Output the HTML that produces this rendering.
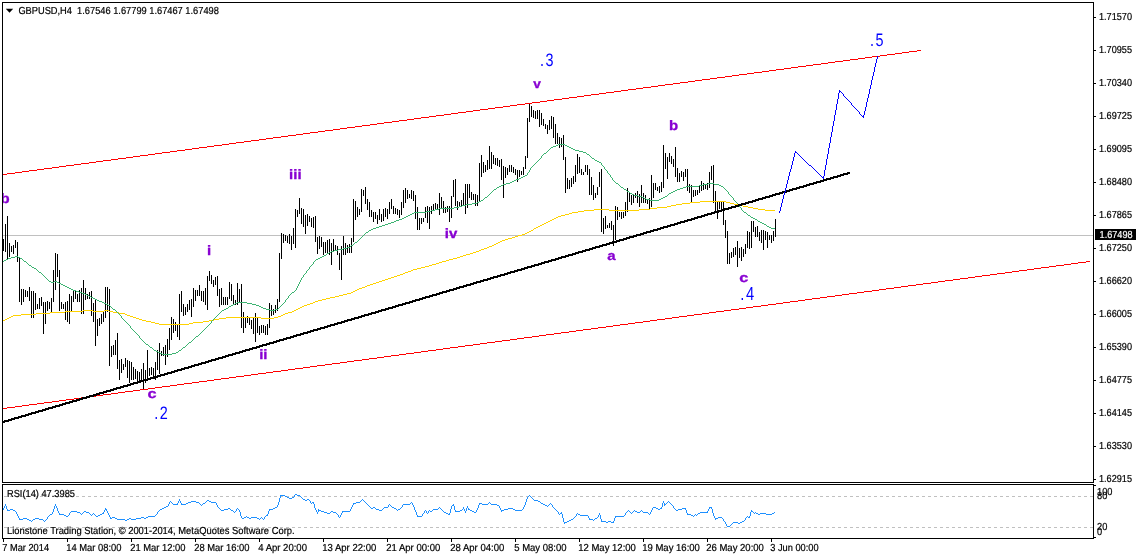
<!DOCTYPE html>
<html lang="en"><head><meta charset="utf-8"><title>GBPUSD,H4</title>
<style>
html,body{margin:0;padding:0;background:#ffffff;overflow:hidden}
svg{display:block}
text{font-family:"Liberation Sans",sans-serif;white-space:pre;text-rendering:geometricPrecision}
.s{font-size:9.8px;fill:#000;stroke:#000;stroke-width:0.2px}
.p{font-size:13px;font-weight:bold;fill:#8800d2;stroke:#8800d2;stroke-width:0.3px}
.b{font-size:18px;fill:#0000ff}
.ce{shape-rendering:crispEdges}
</style></head><body>
<svg width="1136" height="556" viewBox="0 0 1136 556">
<rect x="0" y="0" width="1136" height="556" fill="#ffffff"/>

<g class="ce" fill="none" stroke="#000" stroke-width="1">
<rect x="2.5" y="2.5" width="1091" height="480"/>
<rect x="2.5" y="484.5" width="1091" height="54"/>
<path d="M1094 17.5H1096M1094 50.5H1096M1094 83.5H1096M1094 116.5H1096M1094 149.5H1096M1094 182.5H1096M1094 215.5H1096M1094 248.5H1096M1094 281.5H1096M1094 314.5H1096M1094 347.5H1096M1094 380.5H1096M1094 413.5H1096M1094 446.5H1096M1094 479.5H1096M1094 485.5H1096M1094 537.5H1096M3.5 539V542M67.5 539V542M131.5 539V542M195.5 539V542M259.5 539V542M323.5 539V542M387.5 539V542M451.5 539V542M515.5 539V542M579.5 539V542M643.5 539V542M707.5 539V542M771.5 539V542"/>
</g>
<path class="ce" d="M3 235.5H1093" stroke="#c0c0c0" stroke-width="1" fill="none"/>
<path class="ce" d="M4 496.5H1093M4 527.5H1093" stroke="#c0c0c0" stroke-width="1" stroke-dasharray="3 3" fill="none"/>
<path class="ce" d="M3.5 239V251M5.5 224V252M7.5 216V259M9.5 243V257M11.5 246V252M13.5 245V254M15.5 240V248M17.5 242V262M19.5 257V302M21.5 289V305M23.5 289V302M25.5 290V297M27.5 291V297M29.5 287V301M31.5 291V318M33.5 291V318M35.5 293V310M37.5 304V309M39.5 298V309M41.5 297V306M43.5 302V334M45.5 302V324M47.5 301V311M49.5 302V309M51.5 298V312M53.5 270V302M55.5 253V290M57.5 254V277M59.5 270V311M61.5 302V309M63.5 304V309M65.5 302V320M67.5 301V322M69.5 294V324M71.5 296V311M73.5 290V302M75.5 291V299M77.5 294V302M79.5 290V302M81.5 288V314M83.5 280V314M85.5 288V300M87.5 294V299M89.5 292V299M91.5 291V316M93.5 303V322M95.5 299V346M97.5 319V336M99.5 318V326M101.5 314V324M103.5 312V322M105.5 287V318M107.5 287V312M109.5 289V366M111.5 346V357M113.5 345V355M115.5 340V355M117.5 333V369M119.5 360V380M121.5 359V373M123.5 364V370M125.5 358V367M127.5 360V378M129.5 361V383M131.5 362V380M133.5 367V380M135.5 369V379M137.5 371V381M139.5 372V382M141.5 369V382M143.5 363V389M145.5 370V383M147.5 350V378M149.5 368V376M151.5 367V375M153.5 368V379M155.5 362V380M157.5 350V370M159.5 343V374M161.5 351V356M163.5 347V356M165.5 345V365M167.5 339V357M169.5 328V350M171.5 317V340M173.5 319V333M175.5 322V331M177.5 324V337M179.5 294V340M181.5 291V312M183.5 304V316M185.5 307V315M187.5 304V312M189.5 300V310M191.5 299V317M193.5 288V307M195.5 290V301M197.5 290V296M199.5 285V296M201.5 291V301M203.5 291V302M205.5 288V305M207.5 276V310M209.5 271V281M211.5 275V284M213.5 280V287M215.5 277V285M217.5 276V296M219.5 289V307M221.5 288V305M223.5 297V305M225.5 297V305M227.5 297V305M229.5 282V299M231.5 284V301M233.5 295V305M235.5 300V305M237.5 283V305M239.5 289V302M241.5 284V328M243.5 312V333M245.5 317V328M247.5 316V323M249.5 317V325M251.5 320V329M253.5 317V334M255.5 313V342M257.5 318V333M259.5 326V335M261.5 325V333M263.5 325V333M265.5 326V335M267.5 324V335M269.5 303V328M271.5 305V316M273.5 309V315M275.5 305V313M277.5 299V311M279.5 253V302M281.5 233V259M283.5 234V243M285.5 235V241M287.5 236V243M289.5 234V244M291.5 236V250M293.5 228V244M295.5 209V248M297.5 210V217M299.5 198V214M301.5 208V224M303.5 209V227M305.5 215V234M307.5 214V226M309.5 216V222M311.5 218V227M313.5 217V228M315.5 216V242M317.5 237V254M319.5 236V249M321.5 237V247M323.5 242V255M325.5 242V253M327.5 240V253M329.5 239V255M331.5 243V265M333.5 239V251M335.5 245V251M337.5 246V255M339.5 253V270M341.5 246V280M343.5 236V255M345.5 243V255M347.5 245V253M349.5 244V253M351.5 238V253M353.5 199V242M355.5 201V220M357.5 207V217M359.5 209V215M361.5 189V212M363.5 190V196M365.5 187V204M367.5 199V210M369.5 202V217M371.5 210V217M373.5 212V222M375.5 212V219M377.5 215V224M379.5 209V220M381.5 214V222M383.5 209V221M385.5 208V217M387.5 209V219M389.5 202V214M391.5 199V209M393.5 206V214M395.5 208V214M397.5 209V215M399.5 210V218M401.5 202V215M403.5 190V208M405.5 188V203M407.5 190V199M409.5 194V198M411.5 190V199M413.5 191V201M415.5 195V219M417.5 207V230M419.5 218V230M421.5 218V224M423.5 218V222M425.5 207V218M427.5 206V223M429.5 207V229M431.5 206V214M433.5 204V210M435.5 203V209M437.5 204V210M439.5 193V215M441.5 197V209M443.5 201V213M445.5 207V213M447.5 206V212M449.5 206V222M451.5 196V218M453.5 180V197M455.5 179V206M457.5 201V210M459.5 202V207M461.5 200V207M463.5 193V206M465.5 184V214M467.5 184V208M469.5 184V198M471.5 192V200M473.5 194V200M475.5 194V206M477.5 195V206M479.5 163V202M481.5 155V177M483.5 162V173M485.5 165V172M487.5 160V170M489.5 146V169M491.5 152V169M493.5 155V164M495.5 158V165M497.5 158V166M499.5 160V167M501.5 159V180M503.5 166V198M505.5 167V178M507.5 168V175M509.5 165V172M511.5 165V172M513.5 167V173M515.5 169V175M517.5 170V182M519.5 170V177M521.5 171V175M523.5 167V175M525.5 156V169M527.5 118V158M529.5 104V122M531.5 106V117M533.5 110V118M535.5 111V119M537.5 110V119M539.5 110V127M541.5 113V125M543.5 119V126M545.5 124V129M547.5 125V134M549.5 120V130M551.5 116V129M553.5 117V138M555.5 124V144M557.5 133V144M559.5 137V148M561.5 138V147M563.5 135V160M565.5 157V193M567.5 178V189M569.5 180V189M571.5 178V187M573.5 176V184M575.5 165V182M577.5 154V174M579.5 157V173M581.5 169V175M583.5 172V175M585.5 165V172M587.5 165V175M589.5 169V195M591.5 177V195M593.5 185V200M595.5 193V198M597.5 187V195M599.5 172V187M601.5 169V232M603.5 218V234M605.5 216V229M607.5 225V228M609.5 223V228M611.5 221V230M613.5 225V246M615.5 206V240M617.5 207V220M619.5 212V217M621.5 212V219M623.5 212V218M625.5 202V216M627.5 188V212M629.5 193V202M631.5 195V205M633.5 195V203M635.5 193V198M637.5 191V203M639.5 194V207M641.5 185V203M643.5 193V203M645.5 195V203M647.5 199V204M649.5 198V209M651.5 175V207M653.5 183V198M655.5 183V190M657.5 187V191M659.5 186V193M661.5 182V192M663.5 145V188M665.5 153V169M667.5 157V179M669.5 153V162M671.5 156V164M673.5 159V167M675.5 147V177M677.5 168V182M679.5 173V182M681.5 171V177M683.5 172V181M685.5 169V177M687.5 169V191M689.5 184V193M691.5 185V203M693.5 190V197M695.5 190V196M697.5 190V195M699.5 185V193M701.5 181V191M703.5 183V190M705.5 184V189M707.5 183V190M709.5 172V188M711.5 166V180M713.5 165V203M715.5 191V211M717.5 201V219M719.5 202V209M721.5 202V209M723.5 202V225M725.5 220V238M727.5 231V264M729.5 253V264M731.5 252V258M733.5 248V257M735.5 247V255M737.5 241V267M739.5 248V258M741.5 247V261M743.5 249V257M745.5 244V254M747.5 231V248M749.5 232V249M751.5 221V248M753.5 221V232M755.5 227V237M757.5 226V237M759.5 232V241M761.5 230V243M763.5 230V250M765.5 231V240M767.5 232V248M769.5 235V240M771.5 235V243M773.5 231V241M775.5 219V237" stroke="#000" stroke-width="1" fill="none"/>
<path class="ce" d="M700 201h26v1h-26zM690 202h10v1h-10zM726 202h4v1h-4zM682 203h8v1h-8zM730 203h4v1h-4zM676 204h6v1h-6zM734 204h5v1h-5zM671 205h5v1h-5zM739 205h4v1h-4zM667 206h4v1h-4zM743 206h5v1h-5zM657 207h10v1h-10zM748 207h5v1h-5zM650 208h7v1h-7zM753 208h5v1h-5zM594 209h15v1h-15zM639 209h11v1h-11zM758 209h7v1h-7zM584 210h10v1h-10zM609 210h30v1h-30zM765 210h10v1h-10zM578 211h6v1h-6zM572 212h6v1h-6zM569 213h3v1h-3zM565 214h4v1h-4zM561 215h4v1h-4zM558 216h3v1h-3zM556 217h2v1h-2zM554 218h2v1h-2zM552 219h2v1h-2zM550 220h2v1h-2zM548 221h2v1h-2zM546 222h2v1h-2zM544 223h2v1h-2zM542 224h2v1h-2zM540 225h2v1h-2zM538 226h2v1h-2zM536 227h2v1h-2zM534 228h2v1h-2zM531 230h2v1h-2zM529 231h2v1h-2zM527 232h2v1h-2zM525 233h2v1h-2zM522 234h3v1h-3zM518 235h4v1h-4zM515 236h3v1h-3zM512 237h3v1h-3zM508 238h4v1h-4zM505 239h3v1h-3zM502 240h3v1h-3zM500 241h2v1h-2zM498 242h2v1h-2zM496 243h2v1h-2zM494 244h2v1h-2zM492 245h2v1h-2zM489 246h3v1h-3zM487 247h2v1h-2zM484 248h3v1h-3zM481 249h3v1h-3zM479 250h2v1h-2zM476 251h3v1h-3zM473 252h3v1h-3zM470 253h3v1h-3zM466 254h4v1h-4zM463 255h3v1h-3zM460 256h3v1h-3zM457 257h3v1h-3zM453 258h4v1h-4zM449 259h4v1h-4zM446 260h3v1h-3zM442 261h4v1h-4zM439 262h3v1h-3zM436 263h3v1h-3zM432 264h4v1h-4zM429 265h3v1h-3zM425 266h4v1h-4zM421 267h4v1h-4zM417 268h4v1h-4zM413 269h4v1h-4zM411 270h2v1h-2zM408 271h3v1h-3zM405 272h3v1h-3zM403 273h2v1h-2zM400 274h3v1h-3zM397 275h3v1h-3zM394 276h3v1h-3zM391 277h3v1h-3zM388 278h3v1h-3zM385 279h3v1h-3zM382 280h3v1h-3zM379 281h3v1h-3zM376 282h3v1h-3zM373 283h3v1h-3zM370 284h3v1h-3zM367 285h3v1h-3zM365 286h2v1h-2zM362 287h3v1h-3zM359 288h3v1h-3zM357 289h2v1h-2zM355 290h2v1h-2zM353 291h2v1h-2zM351 292h2v1h-2zM347 293h4v1h-4zM343 294h4v1h-4zM339 295h4v1h-4zM335 296h4v1h-4zM330 297h5v1h-5zM326 298h4v1h-4zM322 299h4v1h-4zM318 300h4v1h-4zM315 301h3v1h-3zM313 302h2v1h-2zM310 303h3v1h-3zM307 304h3v1h-3zM304 305h3v1h-3zM302 306h2v1h-2zM300 307h2v1h-2zM298 308h2v1h-2zM296 309h2v1h-2zM83 310h10v1h-10zM104 310h5v1h-5zM294 310h2v1h-2zM65 311h18v1h-18zM93 311h11v1h-11zM109 311h4v1h-4zM292 311h2v1h-2zM50 312h15v1h-15zM113 312h6v1h-6zM288 312h4v1h-4zM36 313h14v1h-14zM119 313h6v1h-6zM285 313h3v1h-3zM21 314h15v1h-15zM125 314h2v1h-2zM283 314h2v1h-2zM13 315h8v1h-8zM127 315h3v1h-3zM281 315h2v1h-2zM11 316h2v1h-2zM130 316h3v1h-3zM278 316h3v1h-3zM9 317h2v1h-2zM133 317h3v1h-3zM226 317h35v1h-35zM274 317h4v1h-4zM7 318h2v1h-2zM136 318h3v1h-3zM219 318h7v1h-7zM261 318h13v1h-13zM5 319h2v1h-2zM139 319h3v1h-3zM214 319h5v1h-5zM3 320h2v1h-2zM142 320h4v1h-4zM209 320h5v1h-5zM146 321h5v1h-5zM203 321h6v1h-6zM151 322h4v1h-4zM193 322h10v1h-10zM155 323h4v1h-4zM189 323h4v1h-4zM159 324h30v1h-30zM533 229h1v1h-1z" fill="#ffd200"/>
<path class="ce" d="M558 144h7v1h-7zM556 145h2v1h-2zM565 145h2v1h-2zM553 146h3v1h-3zM567 146h2v1h-2zM551 147h2v1h-2zM569 147h2v1h-2zM571 148h2v1h-2zM573 149h2v1h-2zM575 150h4v1h-4zM579 151h4v1h-4zM583 152h3v1h-3zM544 153h2v1h-2zM587 154h2v1h-2zM592 158h2v1h-2zM595 160h2v1h-2zM597 161h2v1h-2zM599 162h2v1h-2zM525 175h2v1h-2zM523 176h2v1h-2zM521 177h2v1h-2zM519 178h2v1h-2zM516 179h3v1h-3zM514 180h2v1h-2zM512 181h2v1h-2zM510 182h2v1h-2zM506 183h4v1h-4zM616 183h2v1h-2zM708 183h6v1h-6zM503 184h3v1h-3zM703 184h5v1h-5zM714 184h5v1h-5zM501 185h2v1h-2zM699 185h4v1h-4zM719 185h2v1h-2zM499 186h2v1h-2zM686 186h13v1h-13zM721 186h2v1h-2zM497 187h2v1h-2zM621 187h2v1h-2zM683 187h3v1h-3zM680 188h3v1h-3zM494 189h2v1h-2zM624 189h2v1h-2zM677 189h3v1h-3zM675 190h2v1h-2zM627 191h2v1h-2zM673 191h2v1h-2zM671 192h2v1h-2zM630 193h2v1h-2zM669 193h2v1h-2zM632 194h2v1h-2zM634 195h4v1h-4zM638 196h4v1h-4zM665 196h2v1h-2zM485 197h2v1h-2zM642 197h2v1h-2zM663 197h2v1h-2zM644 198h2v1h-2zM661 198h2v1h-2zM646 199h4v1h-4zM659 199h2v1h-2zM481 200h2v1h-2zM650 200h9v1h-9zM479 201h2v1h-2zM477 202h2v1h-2zM472 203h5v1h-5zM466 204h6v1h-6zM462 205h4v1h-4zM459 206h3v1h-3zM454 207h5v1h-5zM439 208h15v1h-15zM435 209h4v1h-4zM431 210h4v1h-4zM426 211h5v1h-5zM414 212h12v1h-12zM744 212h2v1h-2zM412 213h2v1h-2zM410 214h2v1h-2zM408 215h2v1h-2zM748 215h2v1h-2zM406 216h2v1h-2zM404 217h2v1h-2zM751 217h2v1h-2zM402 218h2v1h-2zM753 218h2v1h-2zM399 219h3v1h-3zM755 219h2v1h-2zM396 220h3v1h-3zM394 221h2v1h-2zM758 221h2v1h-2zM391 222h3v1h-3zM760 222h2v1h-2zM388 223h3v1h-3zM762 223h2v1h-2zM385 224h3v1h-3zM764 224h2v1h-2zM382 225h3v1h-3zM379 226h3v1h-3zM767 226h2v1h-2zM376 227h3v1h-3zM769 227h2v1h-2zM373 228h3v1h-3zM771 228h4v1h-4zM371 229h2v1h-2zM369 230h2v1h-2zM366 232h2v1h-2zM355 242h2v1h-2zM351 245h2v1h-2zM347 247h3v1h-3zM343 248h4v1h-4zM338 249h5v1h-5zM334 250h4v1h-4zM331 251h3v1h-3zM329 252h2v1h-2zM327 253h2v1h-2zM324 255h2v1h-2zM15 256h3v1h-3zM322 256h2v1h-2zM11 257h4v1h-4zM18 257h2v1h-2zM320 257h2v1h-2zM8 258h3v1h-3zM20 258h2v1h-2zM318 258h2v1h-2zM6 259h2v1h-2zM316 259h2v1h-2zM4 260h2v1h-2zM24 261h2v1h-2zM29 265h2v1h-2zM32 267h2v1h-2zM34 268h2v1h-2zM39 272h2v1h-2zM49 281h2v1h-2zM54 281h3v1h-3zM51 282h3v1h-3zM57 282h2v1h-2zM59 283h2v1h-2zM61 284h2v1h-2zM63 285h2v1h-2zM65 286h2v1h-2zM67 287h2v1h-2zM69 288h2v1h-2zM71 289h2v1h-2zM73 290h3v1h-3zM76 291h3v1h-3zM79 292h3v1h-3zM292 292h2v1h-2zM82 293h3v1h-3zM85 294h2v1h-2zM87 295h2v1h-2zM89 296h2v1h-2zM91 297h2v1h-2zM93 298h2v1h-2zM95 299h2v1h-2zM97 300h2v1h-2zM99 301h3v1h-3zM102 302h2v1h-2zM237 302h10v1h-10zM104 303h2v1h-2zM235 303h2v1h-2zM247 303h5v1h-5zM106 304h2v1h-2zM233 304h2v1h-2zM252 304h4v1h-4zM108 305h2v1h-2zM231 305h2v1h-2zM256 305h3v1h-3zM229 306h2v1h-2zM259 306h2v1h-2zM261 307h2v1h-2zM226 308h2v1h-2zM263 308h3v1h-3zM113 309h2v1h-2zM224 309h2v1h-2zM266 309h4v1h-4zM275 309h3v1h-3zM222 310h2v1h-2zM270 310h5v1h-5zM196 336h2v1h-2zM189 342h2v1h-2zM146 344h2v1h-2zM150 347h2v1h-2zM183 347h2v1h-2zM154 350h2v1h-2zM179 350h2v1h-2zM156 351h2v1h-2zM158 352h2v1h-2zM176 352h2v1h-2zM160 353h2v1h-2zM172 353h4v1h-4zM162 354h10v1h-10zM3 261h1v1h-1zM22 259h1v1h-1zM23 260h1v1h-1zM26 262h1v1h-1zM27 263h1v1h-1zM28 264h1v1h-1zM31 266h1v1h-1zM36 269h1v1h-1zM37 270h1v1h-1zM38 271h1v1h-1zM41 273h1v1h-1zM42 274h1v1h-1zM43 275h1v1h-1zM44 276h1v1h-1zM45 277h1v1h-1zM46 278h1v1h-1zM47 279h1v1h-1zM48 280h1v1h-1zM110 306h1v1h-1zM111 307h1v1h-1zM112 308h1v1h-1zM115 310h1v1h-1zM116 311h1v1h-1zM117 312h1v1h-1zM118 313h1v1h-1zM119 314h1v1h-1zM120 315h1v1h-1zM121 316h1v2h-1zM122 318h1v1h-1zM123 319h1v1h-1zM124 320h1v1h-1zM125 321h1v1h-1zM126 322h1v1h-1zM127 323h1v1h-1zM128 324h1v1h-1zM129 325h1v1h-1zM130 326h1v2h-1zM131 328h1v1h-1zM132 329h1v1h-1zM133 330h1v1h-1zM134 331h1v1h-1zM135 332h1v1h-1zM136 333h1v1h-1zM137 334h1v1h-1zM138 335h1v1h-1zM139 336h1v2h-1zM140 338h1v1h-1zM141 339h1v1h-1zM142 340h1v1h-1zM143 341h1v1h-1zM144 342h1v1h-1zM145 343h1v1h-1zM148 345h1v1h-1zM149 346h1v1h-1zM152 348h1v1h-1zM153 349h1v1h-1zM178 351h1v1h-1zM181 349h1v1h-1zM182 348h1v1h-1zM185 346h1v1h-1zM186 345h1v1h-1zM187 344h1v1h-1zM188 343h1v1h-1zM191 341h1v1h-1zM192 340h1v1h-1zM193 339h1v1h-1zM194 338h1v1h-1zM195 337h1v1h-1zM198 335h1v1h-1zM199 334h1v1h-1zM200 333h1v1h-1zM201 332h1v1h-1zM202 331h1v1h-1zM203 330h1v1h-1zM204 329h1v1h-1zM205 328h1v1h-1zM206 327h1v1h-1zM207 326h1v1h-1zM208 325h1v1h-1zM209 324h1v1h-1zM210 323h1v1h-1zM211 321h1v2h-1zM212 320h1v1h-1zM213 319h1v1h-1zM214 318h1v1h-1zM215 317h1v1h-1zM216 316h1v1h-1zM217 315h1v1h-1zM218 314h1v1h-1zM219 313h1v1h-1zM220 312h1v1h-1zM221 311h1v1h-1zM228 307h1v1h-1zM278 308h1v1h-1zM279 307h1v1h-1zM280 306h1v1h-1zM281 305h1v1h-1zM282 304h1v1h-1zM283 303h1v1h-1zM284 302h1v1h-1zM285 300h1v2h-1zM286 299h1v1h-1zM287 298h1v1h-1zM288 296h1v2h-1zM289 295h1v1h-1zM290 294h1v1h-1zM291 293h1v1h-1zM294 291h1v1h-1zM295 290h1v1h-1zM296 288h1v2h-1zM297 286h1v2h-1zM298 284h1v2h-1zM299 282h1v2h-1zM300 280h1v2h-1zM301 278h1v2h-1zM302 277h1v1h-1zM303 275h1v2h-1zM304 274h1v1h-1zM305 273h1v1h-1zM306 271h1v2h-1zM307 270h1v1h-1zM308 269h1v1h-1zM309 267h1v2h-1zM310 266h1v1h-1zM311 265h1v1h-1zM312 264h1v1h-1zM313 262h1v2h-1zM314 261h1v1h-1zM315 260h1v1h-1zM326 254h1v1h-1zM350 246h1v1h-1zM353 244h1v1h-1zM354 243h1v1h-1zM357 241h1v1h-1zM358 240h1v1h-1zM359 239h1v1h-1zM360 238h1v1h-1zM361 237h1v1h-1zM362 236h1v1h-1zM363 235h1v1h-1zM364 234h1v1h-1zM365 233h1v1h-1zM368 231h1v1h-1zM483 199h1v1h-1zM484 198h1v1h-1zM487 196h1v1h-1zM488 195h1v1h-1zM489 194h1v1h-1zM490 193h1v1h-1zM491 192h1v1h-1zM492 191h1v1h-1zM493 190h1v1h-1zM496 188h1v1h-1zM527 173h1v2h-1zM528 172h1v1h-1zM529 170h1v2h-1zM530 168h1v2h-1zM531 167h1v1h-1zM532 166h1v1h-1zM533 165h1v1h-1zM534 164h1v1h-1zM535 163h1v1h-1zM536 162h1v1h-1zM537 161h1v1h-1zM538 160h1v1h-1zM539 159h1v1h-1zM540 158h1v1h-1zM541 156h1v2h-1zM542 155h1v1h-1zM543 154h1v1h-1zM546 152h1v1h-1zM547 151h1v1h-1zM548 150h1v1h-1zM549 149h1v1h-1zM550 148h1v1h-1zM586 153h1v1h-1zM589 155h1v1h-1zM590 156h1v1h-1zM591 157h1v1h-1zM594 159h1v1h-1zM601 163h1v2h-1zM602 165h1v1h-1zM603 166h1v1h-1zM604 167h1v2h-1zM605 169h1v1h-1zM606 170h1v1h-1zM607 171h1v2h-1zM608 173h1v1h-1zM609 174h1v1h-1zM610 175h1v2h-1zM611 177h1v1h-1zM612 178h1v2h-1zM613 180h1v1h-1zM614 181h1v1h-1zM615 182h1v1h-1zM618 184h1v1h-1zM619 185h1v1h-1zM620 186h1v1h-1zM623 188h1v1h-1zM626 190h1v1h-1zM629 192h1v1h-1zM667 195h1v1h-1zM668 194h1v1h-1zM723 187h1v1h-1zM724 188h1v1h-1zM725 189h1v1h-1zM726 190h1v1h-1zM727 191h1v1h-1zM728 192h1v2h-1zM729 194h1v1h-1zM730 195h1v1h-1zM731 196h1v1h-1zM732 197h1v1h-1zM733 198h1v2h-1zM734 200h1v1h-1zM735 201h1v1h-1zM736 202h1v1h-1zM737 203h1v1h-1zM738 204h1v2h-1zM739 206h1v1h-1zM740 207h1v1h-1zM741 208h1v2h-1zM742 210h1v1h-1zM743 211h1v1h-1zM746 213h1v1h-1zM747 214h1v1h-1zM750 216h1v1h-1zM757 220h1v1h-1zM766 225h1v1h-1z" fill="#3cb371"/>
<path class="ce" d="M295 494h2v1h-2zM280 495h5v1h-5zM297 495h3v1h-3zM285 496h2v1h-2zM287 497h2v1h-2zM292 497h2v1h-2zM289 498h3v1h-3zM303 499h2v1h-2zM307 499h2v1h-2zM207 500h2v1h-2zM305 500h2v1h-2zM534 500h4v1h-4zM191 501h5v1h-5zM209 501h2v1h-2zM538 501h2v1h-2zM188 502h3v1h-3zM196 502h3v1h-3zM211 502h5v1h-5zM312 502h2v1h-2zM356 502h4v1h-4zM186 503h2v1h-2zM203 503h2v1h-2zM353 503h3v1h-3zM479 503h3v1h-3zM541 503h2v1h-2zM173 504h5v1h-5zM181 504h5v1h-5zM403 504h7v1h-7zM482 504h6v1h-6zM491 504h6v1h-6zM543 504h2v1h-2zM664 504h2v1h-2zM452 505h2v1h-2zM497 505h2v1h-2zM545 505h2v1h-2zM166 506h2v1h-2zM164 507h2v1h-2zM275 507h2v1h-2zM373 507h2v1h-2zM384 507h4v1h-4zM392 507h2v1h-2zM653 507h3v1h-3zM709 507h3v1h-3zM162 508h2v1h-2zM228 508h2v1h-2zM273 508h2v1h-2zM371 508h2v1h-2zM394 508h2v1h-2zM508 508h5v1h-5zM656 508h2v1h-2zM660 508h2v1h-2zM682 508h4v1h-4zM10 509h3v1h-3zM105 509h2v1h-2zM160 509h2v1h-2zM224 509h4v1h-4zM269 509h4v1h-4zM376 509h3v1h-3zM398 509h2v1h-2zM433 509h5v1h-5zM468 509h2v1h-2zM504 509h4v1h-4zM513 509h2v1h-2zM658 509h2v1h-2zM678 509h4v1h-4zM7 510h3v1h-3zM13 510h2v1h-2zM221 510h3v1h-3zM231 510h2v1h-2zM318 510h3v1h-3zM379 510h3v1h-3zM460 510h2v1h-2zM470 510h2v1h-2zM501 510h3v1h-3zM515 510h7v1h-7zM676 510h2v1h-2zM71 511h6v1h-6zM84 511h2v1h-2zM321 511h3v1h-3zM331 511h2v1h-2zM342 511h8v1h-8zM430 511h2v1h-2zM455 511h5v1h-5zM472 511h2v1h-2zM635 511h2v1h-2zM751 511h2v1h-2zM77 512h3v1h-3zM86 512h3v1h-3zM324 512h3v1h-3zM333 512h3v1h-3zM444 512h2v1h-2zM474 512h2v1h-2zM637 512h3v1h-3zM643 512h5v1h-5zM700 512h8v1h-8zM102 513h2v1h-2zM327 513h3v1h-3zM446 513h2v1h-2zM560 513h2v1h-2zM698 513h2v1h-2zM756 513h2v1h-2zM760 513h6v1h-6zM772 513h2v1h-2zM50 514h2v1h-2zM59 514h5v1h-5zM100 514h2v1h-2zM448 514h2v1h-2zM578 514h2v1h-2zM687 514h4v1h-4zM758 514h2v1h-2zM766 514h6v1h-6zM64 515h2v1h-2zM98 515h2v1h-2zM266 515h2v1h-2zM580 515h8v1h-8zM691 515h2v1h-2zM66 516h2v1h-2zM96 516h2v1h-2zM148 516h7v1h-7zM417 516h5v1h-5zM615 516h9v1h-9zM112 517h3v1h-3zM141 517h3v1h-3zM146 517h2v1h-2zM244 517h2v1h-2zM247 517h2v1h-2zM251 517h6v1h-6zM718 517h4v1h-4zM748 517h2v1h-2zM23 518h4v1h-4zM35 518h4v1h-4zM110 518h2v1h-2zM115 518h2v1h-2zM129 518h2v1h-2zM136 518h5v1h-5zM144 518h2v1h-2zM242 518h2v1h-2zM249 518h2v1h-2zM257 518h2v1h-2zM595 518h2v1h-2zM715 518h3v1h-3zM19 519h4v1h-4zM27 519h2v1h-2zM33 519h2v1h-2zM39 519h4v1h-4zM117 519h8v1h-8zM127 519h2v1h-2zM131 519h5v1h-5zM571 519h2v1h-2zM589 519h4v1h-4zM29 520h2v1h-2zM125 520h2v1h-2zM569 520h2v1h-2zM567 521h2v1h-2zM601 521h5v1h-5zM608 521h3v1h-3zM742 521h2v1h-2zM564 522h3v1h-3zM606 522h2v1h-2zM611 522h3v1h-3zM733 522h5v1h-5zM740 522h2v1h-2zM738 523h2v1h-2zM727 526h3v1h-3zM3 508h1v2h-1zM4 506h1v2h-1zM5 504h1v2h-1zM6 506h1v3h-1zM7 509h1v1h-1zM15 511h1v1h-1zM16 512h1v2h-1zM17 514h1v2h-1zM18 516h1v2h-1zM19 518h1v1h-1zM31 521h1v1h-1zM32 520h1v1h-1zM43 520h1v1h-1zM44 521h1v1h-1zM45 520h1v1h-1zM46 519h1v1h-1zM47 517h1v2h-1zM48 516h1v1h-1zM49 515h1v1h-1zM52 512h1v2h-1zM53 509h1v3h-1zM54 506h1v3h-1zM55 504h1v2h-1zM56 506h1v2h-1zM57 508h1v3h-1zM58 511h1v2h-1zM59 513h1v1h-1zM68 515h1v1h-1zM69 513h1v2h-1zM70 512h1v1h-1zM80 513h1v1h-1zM81 514h1v1h-1zM82 513h1v1h-1zM83 512h1v1h-1zM89 513h1v1h-1zM90 514h1v1h-1zM91 515h1v1h-1zM92 514h1v1h-1zM93 513h1v1h-1zM94 514h1v1h-1zM95 515h1v1h-1zM103 512h1v1h-1zM104 510h1v2h-1zM105 508h1v1h-1zM106 510h1v1h-1zM107 511h1v2h-1zM108 513h1v2h-1zM109 515h1v2h-1zM110 517h1v1h-1zM155 515h1v1h-1zM156 514h1v1h-1zM157 512h1v2h-1zM158 511h1v1h-1zM159 510h1v1h-1zM168 504h1v2h-1zM169 502h1v2h-1zM170 501h1v1h-1zM171 502h1v1h-1zM172 503h1v1h-1zM177 503h1v1h-1zM178 501h1v2h-1zM179 499h1v2h-1zM180 501h1v2h-1zM181 503h1v1h-1zM199 503h1v1h-1zM200 504h1v1h-1zM201 505h1v1h-1zM202 504h1v1h-1zM205 502h1v1h-1zM206 501h1v1h-1zM216 503h1v2h-1zM217 505h1v2h-1zM218 507h1v1h-1zM219 508h1v1h-1zM220 509h1v1h-1zM230 509h1v1h-1zM233 511h1v1h-1zM234 512h1v1h-1zM235 511h1v1h-1zM236 509h1v2h-1zM237 508h1v1h-1zM238 509h1v1h-1zM239 510h1v2h-1zM240 512h1v4h-1zM241 516h1v2h-1zM246 516h1v1h-1zM259 519h1v1h-1zM260 518h1v1h-1zM261 517h1v1h-1zM262 518h1v1h-1zM263 519h1v1h-1zM264 517h1v2h-1zM265 516h1v1h-1zM267 514h1v1h-1zM268 511h1v3h-1zM269 510h1v1h-1zM277 505h1v2h-1zM278 502h1v3h-1zM279 498h1v4h-1zM280 496h1v2h-1zM294 495h1v2h-1zM300 496h1v1h-1zM301 497h1v1h-1zM302 498h1v1h-1zM309 500h1v1h-1zM310 501h1v2h-1zM311 503h1v1h-1zM313 503h1v1h-1zM314 504h1v4h-1zM315 508h1v2h-1zM316 510h1v2h-1zM317 512h1v2h-1zM318 509h1v1h-1zM318 511h1v1h-1zM330 512h1v1h-1zM336 513h1v1h-1zM337 514h1v1h-1zM338 515h1v2h-1zM339 517h1v1h-1zM340 515h1v2h-1zM341 513h1v2h-1zM342 512h1v1h-1zM350 509h1v2h-1zM351 507h1v2h-1zM352 505h1v2h-1zM353 504h1v1h-1zM360 501h1v1h-1zM361 500h1v1h-1zM362 499h1v1h-1zM363 500h1v1h-1zM364 501h1v1h-1zM365 502h1v1h-1zM366 503h1v1h-1zM367 504h1v1h-1zM368 505h1v1h-1zM369 506h1v1h-1zM370 507h1v1h-1zM375 508h1v1h-1zM382 509h1v1h-1zM383 508h1v1h-1zM388 505h1v2h-1zM389 504h1v1h-1zM390 505h1v1h-1zM391 506h1v1h-1zM396 509h1v1h-1zM397 510h1v1h-1zM400 508h1v1h-1zM401 507h1v1h-1zM402 505h1v2h-1zM410 503h1v1h-1zM411 502h1v1h-1zM412 503h1v2h-1zM413 505h1v2h-1zM414 507h1v3h-1zM415 510h1v2h-1zM416 512h1v3h-1zM417 515h1v1h-1zM422 514h1v2h-1zM423 513h1v1h-1zM424 511h1v2h-1zM425 510h1v1h-1zM426 511h1v2h-1zM427 513h1v1h-1zM428 511h1v2h-1zM429 510h1v1h-1zM432 510h1v1h-1zM438 508h1v1h-1zM439 507h1v1h-1zM440 508h1v1h-1zM441 509h1v1h-1zM442 510h1v1h-1zM443 511h1v1h-1zM449 513h1v1h-1zM450 509h1v4h-1zM451 506h1v3h-1zM453 504h1v1h-1zM454 506h1v4h-1zM455 510h1v1h-1zM462 509h1v1h-1zM463 507h1v2h-1zM464 509h1v2h-1zM465 511h1v2h-1zM466 508h1v3h-1zM467 506h1v2h-1zM468 508h1v1h-1zM476 510h1v2h-1zM477 508h1v2h-1zM478 505h1v3h-1zM479 504h1v1h-1zM488 503h1v1h-1zM489 502h1v1h-1zM490 503h1v1h-1zM499 506h1v2h-1zM500 508h1v2h-1zM501 511h1v1h-1zM522 509h1v1h-1zM523 507h1v2h-1zM524 505h1v2h-1zM525 502h1v3h-1zM526 499h1v3h-1zM527 497h1v2h-1zM528 496h1v1h-1zM529 495h1v1h-1zM530 496h1v1h-1zM531 497h1v1h-1zM532 498h1v1h-1zM533 499h1v1h-1zM540 502h1v1h-1zM547 506h1v1h-1zM548 505h1v1h-1zM549 504h1v1h-1zM550 503h1v1h-1zM551 504h1v1h-1zM552 505h1v2h-1zM553 507h1v1h-1zM554 508h1v1h-1zM555 509h1v1h-1zM556 510h1v1h-1zM557 511h1v1h-1zM558 512h1v2h-1zM559 514h1v1h-1zM561 512h1v1h-1zM562 514h1v4h-1zM563 518h1v4h-1zM564 523h1v1h-1zM573 518h1v1h-1zM574 517h1v1h-1zM575 516h1v1h-1zM576 514h1v2h-1zM577 513h1v1h-1zM588 516h1v2h-1zM589 518h1v1h-1zM593 520h1v1h-1zM594 519h1v1h-1zM597 517h1v1h-1zM598 515h1v2h-1zM599 513h1v2h-1zM600 515h1v4h-1zM601 519h1v2h-1zM613 521h1v1h-1zM614 518h1v3h-1zM615 517h1v1h-1zM624 515h1v1h-1zM625 513h1v2h-1zM626 512h1v1h-1zM627 511h1v1h-1zM628 510h1v1h-1zM629 511h1v1h-1zM630 512h1v1h-1zM631 513h1v1h-1zM632 512h1v1h-1zM633 511h1v1h-1zM634 510h1v1h-1zM640 511h1v1h-1zM641 510h1v1h-1zM642 511h1v1h-1zM648 513h1v1h-1zM649 514h1v1h-1zM650 512h1v2h-1zM651 510h1v2h-1zM652 508h1v2h-1zM661 507h1v1h-1zM662 503h1v4h-1zM663 501h1v2h-1zM664 503h1v1h-1zM664 505h1v1h-1zM666 503h1v1h-1zM667 502h1v1h-1zM668 501h1v1h-1zM669 502h1v1h-1zM670 503h1v1h-1zM671 504h1v1h-1zM672 505h1v1h-1zM673 506h1v2h-1zM674 508h1v1h-1zM675 509h1v1h-1zM685 509h1v1h-1zM686 510h1v3h-1zM687 513h1v1h-1zM693 516h1v1h-1zM694 515h1v1h-1zM695 514h1v1h-1zM696 515h1v1h-1zM697 514h1v1h-1zM707 511h1v1h-1zM708 509h1v2h-1zM709 508h1v1h-1zM711 508h1v1h-1zM712 509h1v4h-1zM713 513h1v3h-1zM714 516h1v2h-1zM715 519h1v1h-1zM722 518h1v1h-1zM723 519h1v2h-1zM724 521h1v1h-1zM725 522h1v2h-1zM726 524h1v2h-1zM730 525h1v1h-1zM731 524h1v1h-1zM732 523h1v1h-1zM744 520h1v1h-1zM745 518h1v2h-1zM746 517h1v1h-1zM747 516h1v1h-1zM749 516h1v1h-1zM750 512h1v4h-1zM751 510h1v1h-1zM753 512h1v1h-1zM754 513h1v1h-1zM755 512h1v1h-1zM774 512h1v1h-1z" fill="#1e90ff"/>
<g class="ce">
<path d="M917 50h4v1h-4zM909 51h8v1h-8zM902 52h7v1h-7zM895 53h7v1h-7zM887 54h8v1h-8zM880 55h7v1h-7zM872 56h8v1h-8zM865 57h7v1h-7zM858 58h7v1h-7zM850 59h8v1h-8zM843 60h7v1h-7zM835 61h8v1h-8zM828 62h7v1h-7zM821 63h7v1h-7zM813 64h8v1h-8zM806 65h7v1h-7zM798 66h8v1h-8zM791 67h7v1h-7zM784 68h7v1h-7zM776 69h8v1h-8zM769 70h7v1h-7zM762 71h7v1h-7zM754 72h8v1h-8zM747 73h7v1h-7zM739 74h8v1h-8zM732 75h7v1h-7zM725 76h7v1h-7zM717 77h8v1h-8zM710 78h7v1h-7zM702 79h8v1h-8zM695 80h7v1h-7zM688 81h7v1h-7zM680 82h8v1h-8zM673 83h7v1h-7zM665 84h8v1h-8zM658 85h7v1h-7zM651 86h7v1h-7zM643 87h8v1h-8zM636 88h7v1h-7zM628 89h8v1h-8zM621 90h7v1h-7zM614 91h7v1h-7zM606 92h8v1h-8zM599 93h7v1h-7zM591 94h8v1h-8zM584 95h7v1h-7zM577 96h7v1h-7zM569 97h8v1h-8zM562 98h7v1h-7zM554 99h8v1h-8zM547 100h7v1h-7zM540 101h7v1h-7zM532 102h8v1h-8zM525 103h7v1h-7zM517 104h8v1h-8zM510 105h7v1h-7zM503 106h7v1h-7zM495 107h8v1h-8zM488 108h7v1h-7zM480 109h8v1h-8zM473 110h7v1h-7zM466 111h7v1h-7zM458 112h8v1h-8zM451 113h7v1h-7zM444 114h7v1h-7zM436 115h8v1h-8zM429 116h7v1h-7zM421 117h8v1h-8zM414 118h7v1h-7zM407 119h7v1h-7zM399 120h8v1h-8zM392 121h7v1h-7zM384 122h8v1h-8zM377 123h7v1h-7zM370 124h7v1h-7zM362 125h8v1h-8zM355 126h7v1h-7zM347 127h8v1h-8zM340 128h7v1h-7zM333 129h7v1h-7zM325 130h8v1h-8zM318 131h7v1h-7zM310 132h8v1h-8zM303 133h7v1h-7zM296 134h7v1h-7zM288 135h8v1h-8zM281 136h7v1h-7zM273 137h8v1h-8zM266 138h7v1h-7zM259 139h7v1h-7zM251 140h8v1h-8zM244 141h7v1h-7zM236 142h8v1h-8zM229 143h7v1h-7zM222 144h7v1h-7zM214 145h8v1h-8zM207 146h7v1h-7zM199 147h8v1h-8zM192 148h7v1h-7zM185 149h7v1h-7zM177 150h8v1h-8zM170 151h7v1h-7zM162 152h8v1h-8zM155 153h7v1h-7zM148 154h7v1h-7zM140 155h8v1h-8zM133 156h7v1h-7zM126 157h7v1h-7zM118 158h8v1h-8zM111 159h7v1h-7zM103 160h8v1h-8zM96 161h7v1h-7zM89 162h7v1h-7zM81 163h8v1h-8zM74 164h7v1h-7zM66 165h8v1h-8zM59 166h7v1h-7zM52 167h7v1h-7zM44 168h8v1h-8zM37 169h7v1h-7zM29 170h8v1h-8zM22 171h7v1h-7zM15 172h7v1h-7zM7 173h8v1h-8zM3 174h4v1h-4zM1086 261h4v1h-4zM1078 262h8v1h-8zM1071 263h7v1h-7zM1064 264h7v1h-7zM1056 265h8v1h-8zM1049 266h7v1h-7zM1041 267h8v1h-8zM1034 268h7v1h-7zM1027 269h7v1h-7zM1019 270h8v1h-8zM1012 271h7v1h-7zM1005 272h7v1h-7zM997 273h8v1h-8zM990 274h7v1h-7zM982 275h8v1h-8zM975 276h7v1h-7zM968 277h7v1h-7zM960 278h8v1h-8zM953 279h7v1h-7zM945 280h8v1h-8zM938 281h7v1h-7zM931 282h7v1h-7zM923 283h8v1h-8zM916 284h7v1h-7zM908 285h8v1h-8zM901 286h7v1h-7zM894 287h7v1h-7zM886 288h8v1h-8zM879 289h7v1h-7zM872 290h7v1h-7zM864 291h8v1h-8zM857 292h7v1h-7zM849 293h8v1h-8zM842 294h7v1h-7zM835 295h7v1h-7zM827 296h8v1h-8zM820 297h7v1h-7zM812 298h8v1h-8zM805 299h7v1h-7zM798 300h7v1h-7zM790 301h8v1h-8zM783 302h7v1h-7zM776 303h7v1h-7zM768 304h8v1h-8zM761 305h7v1h-7zM753 306h8v1h-8zM746 307h7v1h-7zM739 308h7v1h-7zM731 309h8v1h-8zM724 310h7v1h-7zM716 311h8v1h-8zM709 312h7v1h-7zM702 313h7v1h-7zM694 314h8v1h-8zM687 315h7v1h-7zM679 316h8v1h-8zM672 317h7v1h-7zM665 318h7v1h-7zM657 319h8v1h-8zM650 320h7v1h-7zM643 321h7v1h-7zM635 322h8v1h-8zM628 323h7v1h-7zM620 324h8v1h-8zM613 325h7v1h-7zM606 326h7v1h-7zM598 327h8v1h-8zM591 328h7v1h-7zM583 329h8v1h-8zM576 330h7v1h-7zM569 331h7v1h-7zM561 332h8v1h-8zM554 333h7v1h-7zM546 334h8v1h-8zM539 335h7v1h-7zM532 336h7v1h-7zM524 337h8v1h-8zM517 338h7v1h-7zM510 339h7v1h-7zM502 340h8v1h-8zM495 341h7v1h-7zM487 342h8v1h-8zM480 343h7v1h-7zM473 344h7v1h-7zM465 345h8v1h-8zM458 346h7v1h-7zM450 347h8v1h-8zM443 348h7v1h-7zM436 349h7v1h-7zM428 350h8v1h-8zM421 351h7v1h-7zM414 352h7v1h-7zM406 353h8v1h-8zM399 354h7v1h-7zM391 355h8v1h-8zM384 356h7v1h-7zM377 357h7v1h-7zM369 358h8v1h-8zM362 359h7v1h-7zM354 360h8v1h-8zM347 361h7v1h-7zM340 362h7v1h-7zM332 363h8v1h-8zM325 364h7v1h-7zM317 365h8v1h-8zM310 366h7v1h-7zM303 367h7v1h-7zM295 368h8v1h-8zM288 369h7v1h-7zM281 370h7v1h-7zM273 371h8v1h-8zM266 372h7v1h-7zM258 373h8v1h-8zM251 374h7v1h-7zM244 375h7v1h-7zM236 376h8v1h-8zM229 377h7v1h-7zM221 378h8v1h-8zM214 379h7v1h-7zM207 380h7v1h-7zM199 381h8v1h-8zM192 382h7v1h-7zM184 383h8v1h-8zM177 384h7v1h-7zM170 385h7v1h-7zM162 386h8v1h-8zM155 387h7v1h-7zM148 388h7v1h-7zM140 389h8v1h-8zM133 390h7v1h-7zM125 391h8v1h-8zM118 392h7v1h-7zM111 393h7v1h-7zM103 394h8v1h-8zM96 395h7v1h-7zM88 396h8v1h-8zM81 397h7v1h-7zM74 398h7v1h-7zM66 399h8v1h-8zM59 400h7v1h-7zM52 401h7v1h-7zM44 402h8v1h-8zM37 403h7v1h-7zM29 404h8v1h-8zM22 405h7v1h-7zM15 406h7v1h-7zM7 407h8v1h-8zM3 408h4v1h-4z" fill="#ff0000"/>
<path d="M847 172h3v1h-3zM843 173h7v1h-7zM840 174h8v1h-8zM837 175h7v1h-7zM833 176h8v1h-8zM830 177h8v1h-8zM826 178h8v1h-8zM823 179h8v1h-8zM820 180h7v1h-7zM816 181h8v1h-8zM813 182h8v1h-8zM809 183h8v1h-8zM806 184h8v1h-8zM803 185h7v1h-7zM799 186h8v1h-8zM796 187h8v1h-8zM792 188h8v1h-8zM789 189h8v1h-8zM786 190h7v1h-7zM782 191h8v1h-8zM779 192h8v1h-8zM775 193h8v1h-8zM772 194h8v1h-8zM769 195h7v1h-7zM765 196h8v1h-8zM762 197h8v1h-8zM758 198h8v1h-8zM755 199h8v1h-8zM752 200h7v1h-7zM748 201h8v1h-8zM745 202h8v1h-8zM741 203h8v1h-8zM738 204h8v1h-8zM735 205h7v1h-7zM731 206h8v1h-8zM728 207h8v1h-8zM724 208h8v1h-8zM721 209h8v1h-8zM718 210h7v1h-7zM714 211h8v1h-8zM711 212h8v1h-8zM707 213h8v1h-8zM704 214h8v1h-8zM701 215h7v1h-7zM697 216h8v1h-8zM694 217h8v1h-8zM691 218h7v1h-7zM687 219h8v1h-8zM684 220h8v1h-8zM680 221h8v1h-8zM677 222h8v1h-8zM674 223h7v1h-7zM670 224h8v1h-8zM667 225h8v1h-8zM663 226h8v1h-8zM660 227h8v1h-8zM657 228h7v1h-7zM653 229h8v1h-8zM650 230h8v1h-8zM646 231h8v1h-8zM643 232h8v1h-8zM640 233h7v1h-7zM636 234h8v1h-8zM633 235h8v1h-8zM629 236h8v1h-8zM626 237h8v1h-8zM623 238h7v1h-7zM619 239h8v1h-8zM616 240h8v1h-8zM612 241h8v1h-8zM609 242h8v1h-8zM606 243h7v1h-7zM602 244h8v1h-8zM599 245h8v1h-8zM595 246h8v1h-8zM592 247h8v1h-8zM589 248h7v1h-7zM585 249h8v1h-8zM582 250h8v1h-8zM578 251h8v1h-8zM575 252h8v1h-8zM572 253h7v1h-7zM568 254h8v1h-8zM565 255h8v1h-8zM561 256h8v1h-8zM558 257h8v1h-8zM555 258h7v1h-7zM551 259h8v1h-8zM548 260h8v1h-8zM544 261h8v1h-8zM541 262h8v1h-8zM538 263h7v1h-7zM534 264h8v1h-8zM531 265h8v1h-8zM527 266h8v1h-8zM524 267h8v1h-8zM521 268h7v1h-7zM517 269h8v1h-8zM514 270h8v1h-8zM510 271h8v1h-8zM507 272h8v1h-8zM504 273h7v1h-7zM500 274h8v1h-8zM497 275h8v1h-8zM493 276h8v1h-8zM490 277h8v1h-8zM487 278h7v1h-7zM483 279h8v1h-8zM480 280h8v1h-8zM476 281h8v1h-8zM473 282h8v1h-8zM470 283h7v1h-7zM466 284h8v1h-8zM463 285h8v1h-8zM459 286h8v1h-8zM456 287h8v1h-8zM453 288h7v1h-7zM449 289h8v1h-8zM446 290h8v1h-8zM442 291h8v1h-8zM439 292h8v1h-8zM436 293h7v1h-7zM432 294h8v1h-8zM429 295h8v1h-8zM425 296h8v1h-8zM422 297h8v1h-8zM419 298h7v1h-7zM415 299h8v1h-8zM412 300h8v1h-8zM409 301h7v1h-7zM405 302h8v1h-8zM402 303h8v1h-8zM398 304h8v1h-8zM395 305h8v1h-8zM392 306h7v1h-7zM388 307h8v1h-8zM385 308h8v1h-8zM381 309h8v1h-8zM378 310h8v1h-8zM375 311h7v1h-7zM371 312h8v1h-8zM368 313h8v1h-8zM364 314h8v1h-8zM361 315h8v1h-8zM358 316h7v1h-7zM354 317h8v1h-8zM351 318h8v1h-8zM347 319h8v1h-8zM344 320h8v1h-8zM341 321h7v1h-7zM337 322h8v1h-8zM334 323h8v1h-8zM330 324h8v1h-8zM327 325h8v1h-8zM324 326h7v1h-7zM320 327h8v1h-8zM317 328h8v1h-8zM313 329h8v1h-8zM310 330h8v1h-8zM307 331h7v1h-7zM303 332h8v1h-8zM300 333h8v1h-8zM296 334h8v1h-8zM293 335h8v1h-8zM290 336h7v1h-7zM286 337h8v1h-8zM283 338h8v1h-8zM279 339h8v1h-8zM276 340h8v1h-8zM273 341h7v1h-7zM269 342h8v1h-8zM266 343h8v1h-8zM262 344h8v1h-8zM259 345h8v1h-8zM256 346h7v1h-7zM252 347h8v1h-8zM249 348h8v1h-8zM245 349h8v1h-8zM242 350h8v1h-8zM239 351h7v1h-7zM235 352h8v1h-8zM232 353h8v1h-8zM228 354h8v1h-8zM225 355h8v1h-8zM222 356h7v1h-7zM218 357h8v1h-8zM215 358h8v1h-8zM211 359h8v1h-8zM208 360h8v1h-8zM205 361h7v1h-7zM201 362h8v1h-8zM198 363h8v1h-8zM194 364h8v1h-8zM191 365h8v1h-8zM188 366h7v1h-7zM184 367h8v1h-8zM181 368h8v1h-8zM177 369h8v1h-8zM174 370h8v1h-8zM171 371h7v1h-7zM167 372h8v1h-8zM164 373h8v1h-8zM160 374h8v1h-8zM157 375h8v1h-8zM154 376h7v1h-7zM150 377h8v1h-8zM147 378h8v1h-8zM143 379h8v1h-8zM140 380h8v1h-8zM137 381h7v1h-7zM133 382h8v1h-8zM130 383h8v1h-8zM127 384h7v1h-7zM123 385h8v1h-8zM120 386h8v1h-8zM116 387h8v1h-8zM113 388h8v1h-8zM110 389h7v1h-7zM106 390h8v1h-8zM103 391h8v1h-8zM99 392h8v1h-8zM96 393h8v1h-8zM93 394h7v1h-7zM89 395h8v1h-8zM86 396h8v1h-8zM82 397h8v1h-8zM79 398h8v1h-8zM76 399h7v1h-7zM72 400h8v1h-8zM69 401h8v1h-8zM65 402h8v1h-8zM62 403h8v1h-8zM59 404h7v1h-7zM55 405h8v1h-8zM52 406h8v1h-8zM48 407h8v1h-8zM45 408h8v1h-8zM42 409h7v1h-7zM38 410h8v1h-8zM35 411h8v1h-8zM31 412h8v1h-8zM28 413h8v1h-8zM25 414h7v1h-7zM21 415h8v1h-8zM18 416h8v1h-8zM14 417h8v1h-8zM11 418h8v1h-8zM8 419h7v1h-7zM4 420h8v1h-8zM2 421h7v1h-7zM2 422h3v1h-3z" fill="#000"/>
<path d="M839 91h2v1h-2zM862 116h2v1h-2zM795 152h2v1h-2zM809 165h2v1h-2zM822 177h2v1h-2zM779 211h1v2h-1zM780 207h1v4h-1zM781 203h1v4h-1zM782 199h1v4h-1zM783 195h1v4h-1zM784 192h1v3h-1zM785 188h1v4h-1zM786 184h1v4h-1zM787 180h1v4h-1zM788 176h1v4h-1zM789 172h1v4h-1zM790 169h1v3h-1zM791 165h1v4h-1zM792 161h1v4h-1zM793 157h1v4h-1zM794 153h1v4h-1zM795 151h1v1h-1zM797 153h1v1h-1zM798 154h1v1h-1zM799 155h1v1h-1zM800 156h1v1h-1zM801 157h1v1h-1zM802 158h1v1h-1zM803 159h1v1h-1zM804 160h1v1h-1zM805 161h1v1h-1zM806 162h1v1h-1zM807 163h1v1h-1zM808 164h1v1h-1zM811 166h1v1h-1zM812 167h1v1h-1zM813 168h1v1h-1zM814 169h1v1h-1zM815 170h1v1h-1zM816 171h1v1h-1zM817 172h1v1h-1zM818 173h1v1h-1zM819 174h1v1h-1zM820 175h1v1h-1zM821 176h1v1h-1zM823 176h1v1h-1zM823 178h1v1h-1zM824 170h1v6h-1zM825 165h1v5h-1zM826 159h1v6h-1zM827 154h1v5h-1zM828 148h1v6h-1zM829 143h1v5h-1zM830 137h1v6h-1zM831 132h1v5h-1zM832 126h1v6h-1zM833 121h1v5h-1zM834 115h1v6h-1zM835 110h1v5h-1zM836 104h1v6h-1zM837 99h1v5h-1zM838 93h1v6h-1zM839 90h1v1h-1zM839 92h1v1h-1zM841 92h1v1h-1zM842 93h1v1h-1zM843 94h1v2h-1zM844 96h1v1h-1zM845 97h1v1h-1zM846 98h1v1h-1zM847 99h1v1h-1zM848 100h1v1h-1zM849 101h1v1h-1zM850 102h1v1h-1zM851 103h1v2h-1zM852 105h1v1h-1zM853 106h1v1h-1zM854 107h1v1h-1zM855 108h1v1h-1zM856 109h1v1h-1zM857 110h1v1h-1zM858 111h1v1h-1zM859 112h1v2h-1zM860 114h1v1h-1zM861 115h1v1h-1zM863 115h1v1h-1zM863 117h1v1h-1zM864 111h1v4h-1zM865 107h1v4h-1zM866 102h1v5h-1zM867 98h1v4h-1zM868 94h1v4h-1zM869 89h1v5h-1zM870 85h1v4h-1zM871 80h1v5h-1zM872 76h1v4h-1zM873 72h1v4h-1zM874 67h1v5h-1zM875 63h1v4h-1zM876 59h1v4h-1zM877 56h1v3h-1z" fill="#0000ff"/>
</g>
<path d="M5.8 8.8H13.2L9.5 12.8Z" fill="#000"/>
<text class="s" transform="translate(18.4,13.8) scale(0.946,1.04)" id="ttl">GBPUSD,H4  1.67546 1.67799 1.67467 1.67498</text>
<text class="s" transform="translate(1099.0,20.4) scale(0.932,1.04)">1.71570</text>
<text class="s" transform="translate(1099.0,53.4) scale(0.932,1.04)">1.70955</text>
<text class="s" transform="translate(1099.0,86.4) scale(0.932,1.04)">1.70340</text>
<text class="s" transform="translate(1099.0,119.4) scale(0.932,1.04)">1.69725</text>
<text class="s" transform="translate(1099.0,152.4) scale(0.932,1.04)">1.69095</text>
<text class="s" transform="translate(1099.0,185.4) scale(0.932,1.04)">1.68480</text>
<text class="s" transform="translate(1099.0,218.4) scale(0.932,1.04)">1.67865</text>
<text class="s" transform="translate(1099.0,251.4) scale(0.932,1.04)">1.67250</text>
<text class="s" transform="translate(1099.0,284.4) scale(0.932,1.04)">1.66620</text>
<text class="s" transform="translate(1099.0,317.4) scale(0.932,1.04)">1.66005</text>
<text class="s" transform="translate(1099.0,350.4) scale(0.932,1.04)">1.65390</text>
<text class="s" transform="translate(1099.0,383.4) scale(0.932,1.04)">1.64775</text>
<text class="s" transform="translate(1099.0,416.4) scale(0.932,1.04)">1.64145</text>
<text class="s" transform="translate(1099.0,449.4) scale(0.932,1.04)">1.63530</text>
<text class="s" transform="translate(1099.0,482.4) scale(0.932,1.04)">1.62915</text>
<rect class="ce" x="1095" y="229" width="41" height="11" fill="#000"/>
<text class="s" transform="translate(1099.6,238.0) scale(0.932,1.04)" style="fill:#fff;stroke:#fff">1.67498</text>
<text class="s" transform="translate(1097.0,494.6) scale(0.945,1.04)">100</text>
<text class="s" transform="translate(1097.0,498.6) scale(0.945,1.04)">80</text>
<text class="s" transform="translate(1097.0,530.0) scale(0.945,1.04)">20</text>
<text class="s" transform="translate(1097.0,535.4) scale(0.945,1.04)">0</text>
<text class="s" transform="translate(7.0,497.0) scale(0.945,1.04)" id="rsi">RSI(14) 47.3985</text>
<text class="s" transform="translate(7.0,534.0) scale(0.958,1.04)" id="cpy">Lionstone Trading Station, © 2001-2014, MetaQuotes Software Corp.</text>
<text class="s" transform="translate(2.2,550.8) scale(0.945,1.04)" id="d0">7 Mar 2014</text>
<text class="s" transform="translate(66.2,550.8) scale(0.9582,1.04)" id="d1">14 Mar 08:00</text>
<text class="s" transform="translate(130.2,550.8) scale(0.9582,1.04)" id="d2">21 Mar 12:00</text>
<text class="s" transform="translate(194.2,550.8) scale(0.9582,1.04)" id="d3">28 Mar 16:00</text>
<text class="s" transform="translate(258.2,550.8) scale(0.9733,1.04)" id="d4">4 Apr 20:00</text>
<text class="s" transform="translate(322.2,550.8) scale(0.9733,1.04)" id="d5">13 Apr 22:00</text>
<text class="s" transform="translate(386.2,550.8) scale(0.9733,1.04)" id="d6">21 Apr 00:00</text>
<text class="s" transform="translate(450.2,550.8) scale(0.9733,1.04)" id="d7">28 Apr 04:00</text>
<text class="s" transform="translate(514.2,550.8) scale(0.9715,1.04)" id="d8">5 May 08:00</text>
<text class="s" transform="translate(578.2,550.8) scale(0.9715,1.04)" id="d9">12 May 12:00</text>
<text class="s" transform="translate(642.2,550.8) scale(0.9715,1.04)" id="d10">19 May 16:00</text>
<text class="s" transform="translate(706.2,550.8) scale(0.9715,1.04)" id="d11">26 May 20:00</text>
<text class="s" transform="translate(770.2,550.8) scale(0.945,1.04)" id="d12">3 Jun 00:00</text>
<clipPath id="cl"><rect x="3" y="3" width="1090" height="479"/></clipPath>
<g clip-path="url(#cl)">
<text class="p" transform="translate(0.6,202.8) scale(1.15,1.05)">b</text>
<text class="p" transform="translate(207,254.7) scale(1.15,1.05)">i</text>
<text class="p" transform="translate(259.2,358.7) scale(1.15,1.05)">ii</text>
<text class="p" transform="translate(289.1,178.9) scale(1.15,1.05)">iii</text>
<text class="p" transform="translate(444.8,237.7) scale(1.15,1.05)">iv</text>
<text class="p" transform="translate(533.2,87.8) scale(1.06,1)">v</text>
<text class="p" transform="translate(607.3,260) scale(1.15,1)">a</text>
<text class="p" transform="translate(669,130.1) scale(1.15,1.05)">b</text>
<text class="p" transform="translate(739.2,282) scale(1.25,1)">c</text>
<text class="p" transform="translate(147.5,398) scale(1.25,1)">c</text>
<text class="b" transform="translate(154.3,419) scale(0.8,1)" style="letter-spacing:1.8px">.2</text>
<text class="b" transform="translate(540.1,65.9) scale(0.8,1)" style="letter-spacing:1.8px">.3</text>
<text class="b" transform="translate(740.3,299.7) scale(0.82,1.06)" style="letter-spacing:1.8px">.4</text>
<text class="b" transform="translate(870.1,46) scale(0.8,1)" style="letter-spacing:1.8px">.5</text>
</g>
</svg></body></html>
